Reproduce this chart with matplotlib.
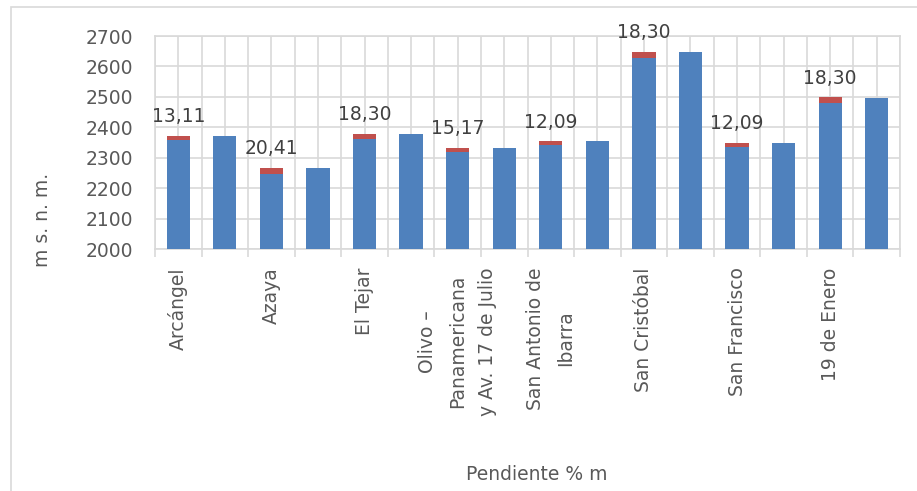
import matplotlib.pyplot as plt
import matplotlib.patches as mpatches
import numpy as np

# elevation (blue) and slope cap (red) per bar, two bars per site
sitios = ["Arcángel", "Azaya", "El Tejar", "Olivo –\nPanamericana\ny Av. 17 de Julio",
          "San Antonio de\nIbarra", "San Cristóbal", "San Francisco", "19 de Enero"]
altura = [2358, 2371, 2247, 2267, 2361, 2379, 2318, 2333,
          2342, 2354, 2629, 2647, 2337, 2349, 2480, 2498]
pendiente = [13.11, 0, 20.41, 0, 18.30, 0, 15.17, 0,
             12.09, 0, 18.30, 0, 12.09, 0, 18.30, 0]

azul = "#4f81bd"
rojo = "#c0504d"
gris = "#d9d9d9"
texto = "#595959"
fs = 13.5

plt.rcParams['font.family'] = ['DejaVu Sans']

fig = plt.figure(figsize=(9.17, 4.91), dpi=100)
# chart border
fig.patches.append(mpatches.Rectangle((11/917, -0.1), 1.2, 1 - 7/491 + 0.1,
                                      transform=fig.transFigure, fill=False,
                                      edgecolor=gris, linewidth=1.2))

ax = fig.add_axes([155/917, 1 - 249.3/491, 745/917, (249.3 - 36)/491])

x = np.arange(len(altura))
ax.bar(x, altura, width=0.5, color=azul, zorder=3)
ax.bar(x, pendiente, width=0.5, bottom=altura, color=rojo, zorder=3)

for xi, a, p in zip(x, altura, pendiente):
    if p > 0:
        ax.annotate("{:.2f}".format(p).replace(".", ","), (xi, a + p),
                    xytext=(0, 10), textcoords="offset points",
                    ha="center", va="baseline", fontsize=fs, color="#404040")

ax.set_ylim(2000, 2700)
ax.set_yticks(np.arange(2000, 2701, 100))
ax.set_xlim(-0.5, len(altura) - 0.5)

# gridlines at bar boundaries and bar centres
ax.set_xticks(np.arange(-0.5, len(altura), 1.0))
ax.set_xticklabels([])
ax.set_xticks(x, minor=True)
etiquetas = []
for s in sitios:
    etiquetas += [s, ""]
ax.set_xticklabels(etiquetas, minor=True, rotation=90, fontsize=fs, color=texto,
                   va="top", ha="center", multialignment="center", linespacing=1.75)

ax.grid(True, which="both", color=gris, linewidth=1.2, zorder=0)
ax.set_axisbelow(True)
ax.tick_params(axis="x", which="major", length=6, color=gris, width=1.2)
ax.tick_params(axis="x", which="minor", length=0, pad=13)
ax.tick_params(axis="y", length=0, pad=16, labelsize=fs, labelcolor=texto)
for sp in ax.spines.values():
    sp.set_color(gris)
    sp.set_linewidth(1.2)

fig.text(42/917, 1 - 220/491, "m s. n. m.", rotation=90, ha="center", va="center",
         fontsize=fs, color=texto)
fig.text(537/917, 1 - 475/491, "Pendiente % m", ha="center", va="center",
         fontsize=fs, color=texto)

fig.savefig("out.png", dpi=100)
